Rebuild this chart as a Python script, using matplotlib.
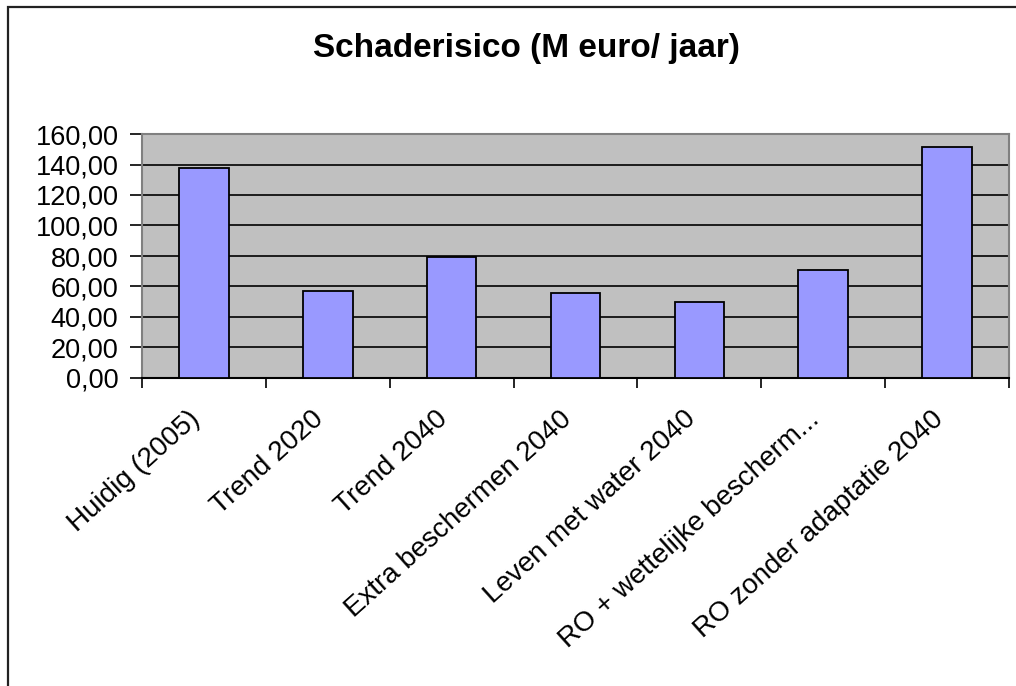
import matplotlib
matplotlib.use("Agg")
import matplotlib.pyplot as plt
import matplotlib.transforms as mtransforms
from matplotlib.patches import Rectangle

# Schaderisico per scenario (M euro / jaar)
categories = [
    "Huidig (2005)",
    "Trend 2020",
    "Trend 2040",
    "Extra beschermen 2040",
    "Leven met water 2040",
    "RO + wettelijke bescherm...",
    "RO zonder adaptatie 2040",
]
values = [137.5, 57.0, 79.3, 55.7, 49.8, 71.0, 151.5]
y_ticks = [0, 20, 40, 60, 80, 100, 120, 140, 160]
y_tick_labels = ["0,00", "20,00", "40,00", "60,00", "80,00", "100,00", "120,00", "140,00", "160,00"]

plt.rcParams["font.family"] = ["Liberation Sans", "DejaVu Sans"]

fig = plt.figure(figsize=(10.16, 6.86), dpi=100)
ax = fig.add_axes([142 / 1016, 1 - 378 / 686, (1009 - 142) / 1016, (378 - 134) / 686])

# chart area frame (runs off the right and bottom edge)
fig.patches.append(Rectangle((8 / 1016, -0.1), 1.2, 1.1 - 7 / 686, transform=fig.transFigure,
                             fill=False, edgecolor="#222222", linewidth=1.6, zorder=0))

ax.set_facecolor("#C0C0C0")
x = list(range(len(categories)))
ax.bar(x, values, width=0.4, color="#9999FF", edgecolor="black", linewidth=1.3, zorder=3)

ax.set_xlim(-0.5, len(categories) - 0.5)
ax.set_ylim(0, 160)
ax.set_yticks(y_ticks)
ax.set_yticklabels(y_tick_labels, fontsize=19.5)
ax.yaxis.grid(True, color="black", linewidth=1.2, zorder=1)
ax.set_axisbelow(True)

# tick marks between categories
ax.set_xticks([i - 0.5 for i in range(len(categories) + 1)])
ax.set_xticklabels([])
ax.tick_params(axis="x", direction="out", length=7, width=1.2, color="black")
ax.tick_params(axis="y", direction="out", length=9, width=1.2, pad=8, color="black")

# rotated category labels, ending just left of each category centre
shift = mtransforms.ScaledTranslation(-0.16, -0.28, fig.dpi_scale_trans)
for i, name in zip(x, categories):
    ax.text(i, 0, name, transform=ax.get_xaxis_transform() + shift, fontsize=20,
            rotation=42, rotation_mode="anchor", ha="right", va="top")

for side in ["top", "right", "left"]:
    ax.spines[side].set_color("#808080")
    ax.spines[side].set_linewidth(1.5)
ax.spines["bottom"].set_color("black")
ax.spines["bottom"].set_linewidth(1.5)

fig.text(526 / 1016, 1 - 48 / 686, "Schaderisico (M euro/ jaar)", fontsize=24,
         fontweight="bold", ha="center", va="center")

fig.savefig("out.png", dpi=100)
